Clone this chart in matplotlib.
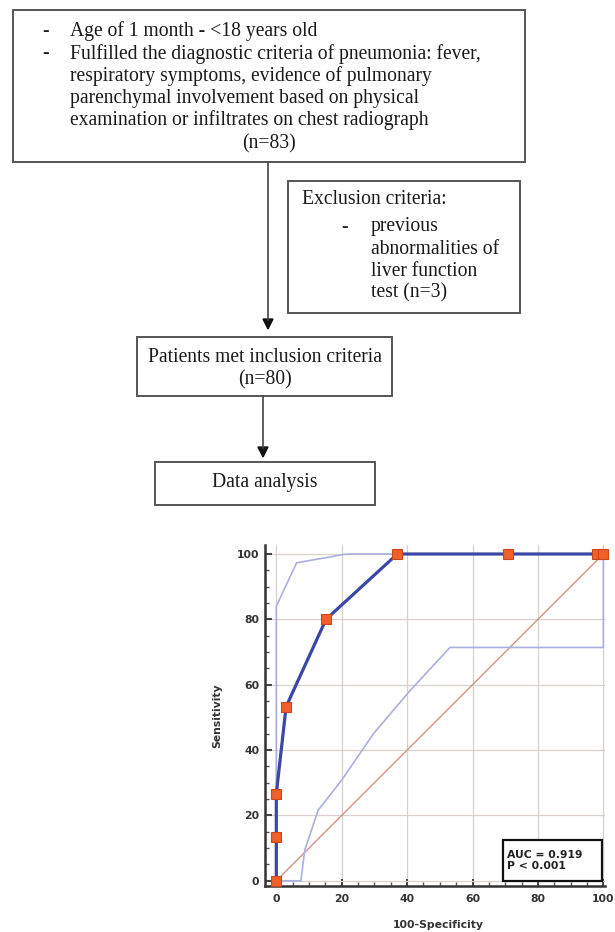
import matplotlib
matplotlib.use("Agg")
import matplotlib.pyplot as plt
from matplotlib.patches import Rectangle, Polygon
from matplotlib.ticker import MultipleLocator

# ROC data (100-specificity, sensitivity)
roc_fpr = [0, 0, 0, 3.0, 15.2, 37.0, 70.8, 98.2, 100]
roc_sens = [0, 13.3, 26.7, 53.3, 80.0, 100, 100, 100, 100]

# confidence band
upper_fpr = [0, 0, 6.2, 21.5, 100]
upper_sens = [0, 84, 97.3, 100, 100]
lower_fpr = [0, 7.5, 8.7, 12.8, 20.0, 29.7, 40.9, 53.1, 100, 100]
lower_sens = [0, 0, 9.4, 21.6, 30.8, 45.0, 58.2, 71.4, 71.4, 100]

auc_text = "AUC = 0.919\nP < 0.001"

top_lines = [
    "Age of 1 month - <18 years old",
    "Fulfilled the diagnostic criteria of pneumonia: fever,",
    "respiratory symptoms, evidence of pulmonary",
    "parenchymal involvement based on physical",
    "examination or infiltrates on chest radiograph",
]
excl_lines = ["previous", "abnormalities of", "liver function", "test (n=3)"]

W, H = 615, 932
fig = plt.figure(figsize=(W / 100, H / 100), dpi=100)
fig.patch.set_facecolor("white")

# flowchart on a pixel-space overlay
fl = fig.add_axes([0, 0, 1, 1])
fl.set_xlim(0, W)
fl.set_ylim(H, 0)
fl.axis("off")

serif = "Liberation Serif"
tc = "#1a1a1a"
ec = "#555555"
fs = 14.1


def box(x0, y0, x1, y1):
    fl.add_patch(Rectangle((x0, y0), x1 - x0, y1 - y0, fill=False, ec=ec, lw=1.4))


def arrow(x, y0, y1):
    fl.plot([x, x], [y0, y1 - 9], color="#444444", lw=1.2)
    fl.add_patch(Polygon([[x - 5, y1 - 10], [x + 5, y1 - 10], [x, y1]],
                         closed=True, color="#111111"))


def txt(x, y, s, ha="left"):
    fl.text(x, y, s, family=serif, fontsize=fs, color=tc, va="center", ha=ha)


box(13, 10, 525, 162)
ys = [31, 54, 76, 98, 120]
for i, (y, t) in enumerate(zip(ys, top_lines)):
    if i < 2:
        txt(42, y, "-")
    txt(70, y, t)
txt(269, 144, "(n=83)", ha="center")

box(288, 181, 520, 313)
txt(302, 200, "Exclusion criteria:")
txt(341, 227, "-")
for y, t in zip([227, 249, 271, 293], excl_lines):
    txt(371, y, t)

arrow(268, 162, 329)

box(137, 337, 392, 396)
txt(265, 357, "Patients met inclusion criteria", ha="center")
txt(265, 380, "(n=80)", ha="center")

arrow(263, 396, 457)

box(155, 462, 375, 505)
txt(265, 483, "Data analysis", ha="center")

# ROC axes
left, right, top, bottom = 265, 605, 545, 886
ax = fig.add_axes([left / W, (H - bottom) / H, (right - left) / W, (bottom - top) / H])
ax.set_xlim(-3.46, 100.5)
ax.set_ylim(-1.6, 102.75)
ax.set_facecolor("white")

for s in ["top", "right"]:
    ax.spines[s].set_visible(False)
for s in ["left", "bottom"]:
    ax.spines[s].set_linewidth(1.8)
    ax.spines[s].set_color("#333333")

ax.xaxis.set_major_locator(MultipleLocator(20))
ax.xaxis.set_minor_locator(MultipleLocator(5))
ax.yaxis.set_major_locator(MultipleLocator(20))
ax.yaxis.set_minor_locator(MultipleLocator(5))
ax.tick_params(which="major", direction="in", length=5, width=1.3, color="#333333",
               labelsize=7.8, pad=4)
ax.tick_params(axis="x", which="major", pad=6)
ax.tick_params(which="minor", direction="in", length=3, width=1.0, color="#555555")
for lab in ax.get_xticklabels() + ax.get_yticklabels():
    lab.set_fontweight("bold")
    lab.set_color("#333333")

ax.grid(True, which="major", color="#d8d0cc", lw=0.9)
ax.set_axisbelow(True)

ax.plot([0, 100], [0, 100], color="#d49483", lw=1.0, zorder=2)
ax.plot(upper_fpr, upper_sens, color="#aab0de", lw=1.2, zorder=2, clip_on=False)
ax.plot(lower_fpr, lower_sens, color="#aab0de", lw=1.2, zorder=2, clip_on=False)
ax.plot(roc_fpr, roc_sens, color="#3b46a6", lw=2.3, zorder=3, clip_on=False,
        marker="s", markersize=7, markerfacecolor="#f0602a",
        markeredgecolor="#c9471a", markeredgewidth=0.8)

ax.add_patch(Rectangle((0.70, 0.0147), 0.291, 0.12, transform=ax.transAxes,
                       fill=True, fc="white", ec="#111111", lw=1.6, zorder=4))
ax.text(0.712, 0.075, auc_text, transform=ax.transAxes, fontsize=7.8,
        fontweight="bold", color="#222222", va="center", ha="left",
        linespacing=1.2, zorder=5)

ax.set_xlabel("100-Specificity", fontsize=7.8, fontweight="bold", color="#333333")
ax.set_ylabel("Sensitivity", fontsize=7.8, fontweight="bold", color="#333333")
ax.xaxis.set_label_coords(0.51, -0.1)
ax.yaxis.set_label_coords(-0.125, 0.5)

fig.savefig("out.png", dpi=100, facecolor="white")
